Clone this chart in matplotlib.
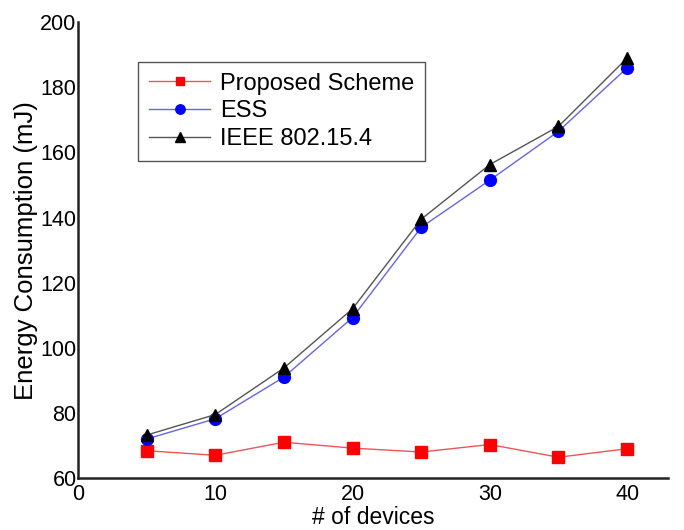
import numpy as np
import matplotlib.pyplot as plt

plt.rcParams['font.family'] = ['Liberation Sans', 'DejaVu Sans']

devices = [5, 10, 15, 20, 25, 30, 35, 40]
proposed = [68.4, 67.0, 71.0, 69.2, 68.0, 70.3, 66.4, 69.0]
ess = [72.0, 78.2, 91.0, 109.3, 137.0, 151.5, 166.5, 186.0]
ieee = [73.2, 79.5, 93.8, 112.0, 139.5, 156.3, 168.0, 189.0]

fig = plt.figure(figsize=(6.84, 5.30), dpi=100)
ax = fig.add_axes([0.114, 0.098, 0.863, 0.86])

ax.plot(devices, proposed, color='#ee5555', lw=1.0, marker='s', ms=8,
        mfc='red', mec='red', label='Proposed Scheme')
ax.plot(devices, ess, color='#6666dd', lw=1.0, marker='o', ms=8.5,
        mfc='blue', mec='blue', label='ESS')
ax.plot(devices, ieee, color='#555555', lw=1.0, marker='^', ms=9,
        mfc='black', mec='black', label='IEEE 802.15.4')

ax.set_xlim(0, 43)
ax.set_ylim(60, 200)
ax.set_xticks([0, 10, 20, 30, 40])
ax.set_yticks(np.arange(60, 201, 20))
ax.tick_params(length=0, labelsize=15.5)
ax.tick_params(axis='y', pad=1)
ax.tick_params(axis='x', pad=4)
for s in ['top', 'right']:
    ax.spines[s].set_visible(False)
for s in ['left', 'bottom']:
    ax.spines[s].set_linewidth(1.8)
    ax.spines[s].set_color('#222222')

ax.set_xlabel('# of devices', fontsize=16.5, labelpad=1)
ax.set_ylabel('Energy Consumption (mJ)', fontsize=18.5, labelpad=2)

leg = ax.legend(loc='upper left', bbox_to_anchor=(0.102, 0.913), fontsize=17,
                fancybox=False, framealpha=1, edgecolor='#555555',
                handlelength=2.6, handletextpad=0.4, borderpad=0.45,
                labelspacing=0.25, markerscale=0.8, borderaxespad=0)
leg.get_frame().set_linewidth(1.0)

fig.savefig('out.png', dpi=100)
